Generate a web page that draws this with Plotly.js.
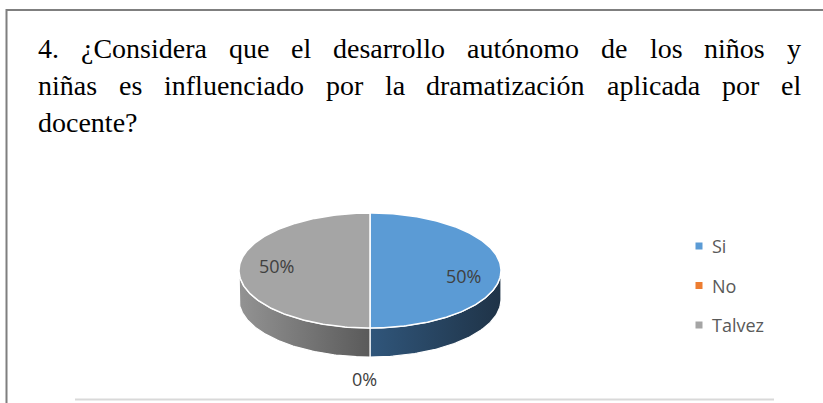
<!DOCTYPE html>
<html><head><meta charset="utf-8">
<script src="https://cdn.plot.ly/plotly-3.0.1.min.js"></script>
<style>html,body{margin:0;padding:0;background:#fff;}#chart{width:823px;height:403px;}</style>
</head><body><div id="chart"></div>
<script>
// ---- data ----
const categories = ["Si", "No", "Talvez"];
const percentages = [50, 0, 50];
const topColors = ["#5B9BD5", "#ED7D31", "#A5A5A5"];
const sideLight = ["#30567b", "#b3561d", "#939393"];
const sideDark = ["#1f3347", "#8a4216", "#5a5a5a"];
const titleLines = [
  "4. ¿Considera que el desarrollo autónomo de los niños y",
  "niñas es influenciado por la dramatización aplicada por el",
  "docente?"
];

// ---- layout constants (pixels) ----
const W = 823, H = 403;
const CX = 370, CY = 270.5, RX = 131, RY = 57.5, DEPTH = 29;
const TITLE_LEFT = 37, TITLE_RIGHT = 800, TITLE_Y0 = 48.5, TITLE_DY = 37, TITLE_SIZE = 28;
const TITLE_FONT = '"Liberation Serif", "Times New Roman", serif';
const LEG_X = 699, LEG_TX = 710, LEG_Y0 = 246, LEG_DY = 39.5;

function pt(a, dy) {
  const r = a * Math.PI / 180;
  return [CX + RX * Math.sin(r), CY - RY * Math.cos(r) + (dy || 0)];
}
function arc(a0, a1, dy) {
  const pts = [];
  const n = Math.max(2, Math.ceil(Math.abs(a1 - a0)));
  for (let i = 0; i <= n; i++) pts.push(pt(a0 + (a1 - a0) * i / n, dy));
  return pts;
}

const total = percentages.reduce((s, v) => s + v, 0);
const slices = [];
let acc = 0;
percentages.forEach((v, i) => {
  const a0 = acc / total * 360;
  acc += v;
  const a1 = acc / total * 360;
  slices.push({ i, v, a0, a1 });
});

const sideTraces = [], topTraces = [];
slices.forEach(s => {
  if (s.v <= 0) return;
  const f0 = Math.max(s.a0, 90), f1 = Math.min(s.a1, 270);
  if (f1 > f0) {
    const pts = arc(f0, f1, 0).concat(arc(f1, f0, DEPTH));
    pts.push(pts[0]);
    sideTraces.push({
      type: "scatter", mode: "lines", fill: "toself",
      x: pts.map(p => p[0]), y: pts.map(p => p[1]),
      line: { color: "#ffffff", width: 1.2 },
      fillcolor: sideDark[s.i],
      fillgradient: { type: "horizontal", colorscale: [[0, sideLight[s.i]], [1, sideDark[s.i]]] },
      hoverinfo: "skip", showlegend: false
    });
  }
  const tp = [[CX, CY]].concat(arc(s.a0, s.a1, 0));
  tp.push([CX, CY]);
  topTraces.push({
    type: "scatter", mode: "lines", fill: "toself",
    x: tp.map(p => p[0]), y: tp.map(p => p[1]),
    line: { color: "#ffffff", width: 1.5 },
    fillcolor: topColors[s.i],
    hoverinfo: "skip", showlegend: false
  });
});

const legendTrace = {
  type: "scatter", mode: "markers",
  x: categories.map(() => LEG_X),
  y: categories.map((c, i) => LEG_Y0 + i * LEG_DY),
  marker: { symbol: "square", size: 7, color: topColors },
  hoverinfo: "skip", showlegend: false
};

const annotations = [];
slices.forEach(s => {
  const mid = (s.a0 + s.a1) / 2;
  const r = mid * Math.PI / 180;
  let x, y;
  if (s.v > 0) {
    x = CX + 0.71 * RX * Math.sin(r);
    y = CY - 0.71 * RY * Math.cos(r) + 5 * Math.sin(r);
  } else {
    x = CX + (RX + 10) * Math.sin(r) - 6;
    y = CY - RY * Math.cos(r) + (Math.cos(r) < 0 ? DEPTH + 22 : -22);
  }
  annotations.push({ x, y, xref: "x", yref: "y", text: s.v + "%", showarrow: false,
    font: { family: "Open Sans", size: 18, color: "#404040" }, xanchor: "center", yanchor: "middle" });
});
categories.forEach((c, i) => {
  annotations.push({ x: LEG_TX, y: LEG_Y0 + i * LEG_DY, xref: "x", yref: "y", text: c, showarrow: false,
    font: { family: "Open Sans", size: 18, color: "#595959" }, xanchor: "left", yanchor: "middle" });
});
// justified title (word positions from measured widths)
const ctx = document.createElement("canvas").getContext("2d");
ctx.font = TITLE_SIZE + "px " + TITLE_FONT;
titleLines.forEach((line, li) => {
  const words = line.split(" ");
  const widths = words.map(w => ctx.measureText(w).width);
  const sum = widths.reduce((a, b) => a + b, 0);
  const last = li === titleLines.length - 1;
  const gap = (!last && words.length > 1) ? (TITLE_RIGHT - TITLE_LEFT - sum) / (words.length - 1) : ctx.measureText(" ").width;
  let x = TITLE_LEFT;
  words.forEach((w, wi) => {
    annotations.push({ x: x - 1, y: TITLE_Y0 + li * TITLE_DY, xref: "x", yref: "y", text: w, showarrow: false,
      font: { family: TITLE_FONT, size: TITLE_SIZE, color: "#000000" },
      xanchor: "left", yanchor: "middle" });
    x += widths[wi] + gap;
  });
});

const shapes = [
  { type: "line", xref: "x", yref: "y", x0: 6, x1: 823, y0: 10, y1: 10, line: { color: "#7f7f7f", width: 2 } },
  { type: "line", xref: "x", yref: "y", x0: 6.5, x1: 6.5, y0: 9, y1: 403, line: { color: "#7f7f7f", width: 2 } },
  { type: "line", xref: "x", yref: "y", x0: 75, x1: 774, y0: 399.5, y1: 399.5, line: { color: "#d9d9d9", width: 2 } }
];

const layout = {
  width: W, height: H,
  margin: { l: 0, r: 0, t: 0, b: 0, pad: 0 },
  paper_bgcolor: "#ffffff", plot_bgcolor: "#ffffff",
  xaxis: { range: [0, W], visible: false, fixedrange: true },
  yaxis: { range: [H, 0], visible: false, fixedrange: true },
  showlegend: false, hovermode: false,
  annotations, shapes
};

Plotly.newPlot("chart", sideTraces.concat(topTraces, [legendTrace]), layout, { staticPlot: true, displayModeBar: false });
</script>
</body></html>
